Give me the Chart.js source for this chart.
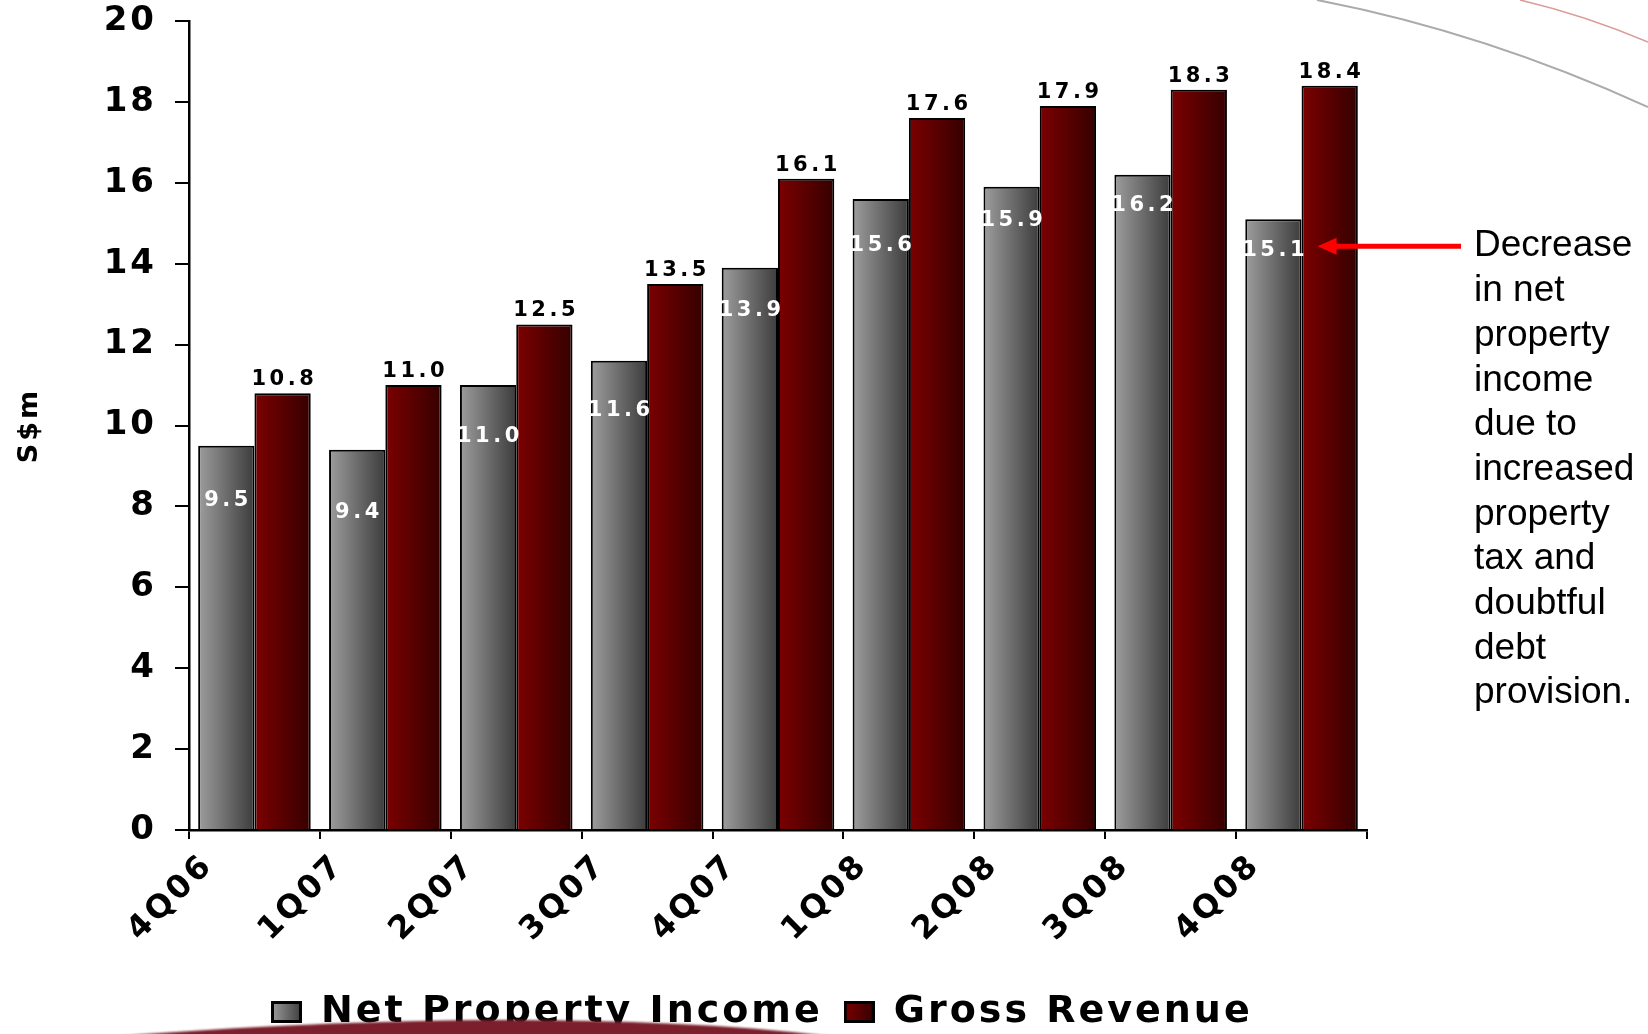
<!DOCTYPE html>
<html>
<head>
<meta charset="utf-8">
<title>Net Property Income and Gross Revenue</title>
<script src="https://cdn.jsdelivr.net/npm/chart.js@4/dist/chart.umd.min.js"></script>
<style>
  html, body { margin: 0; padding: 0; background: #ffffff; }
  #wrap { position: relative; width: 1648px; height: 1034px; }
</style>
</head>
<body>
<div id="wrap"><canvas id="chart"></canvas></div>
<script>
// Quarterly figures, S$ million
const quarters = ['4Q06', '1Q07', '2Q07', '3Q07', '4Q07', '1Q08', '2Q08', '3Q08', '4Q08'];
const netPropertyIncome = [9.5, 9.4, 11.0, 11.6, 13.9, 15.6, 15.9, 16.2, 15.1];
const grossRevenue = [10.8, 11.0, 12.5, 13.5, 16.1, 17.6, 17.9, 18.3, 18.4];
const seriesNames = ['Net Property Income', 'Gross Revenue'];
const axisTitle = 'S$m';
const noteLines = ['Decrease', 'in net', 'property', 'income', 'due to', 'increased',
                   'property', 'tax and', 'doubtful', 'debt', 'provision.'];

const CAT_PCT = 0.86;
const FONT = '"DejaVu Sans", "Liberation Sans", sans-serif';
const palettes = [['#9d9d9d', '#3c3c3c'], ['#7c0000', '#350000']];

// Horizontal shading across each bar, computed from the category scale
function barGradient(context) {
  const chart = context.chart;
  const xs = chart.scales.x;
  const pal = palettes[context.datasetIndex];
  if (!xs || !isFinite(xs.width) || context.dataIndex === undefined) return pal[0];
  const center = xs.getPixelForValue(context.dataIndex);
  const slot = xs.width / quarters.length * CAT_PCT / 2;
  const left = context.datasetIndex === 0 ? center - slot : center;
  const g = chart.ctx.createLinearGradient(left, 0, left + slot, 0);
  g.addColorStop(0, pal[0]);
  g.addColorStop(1, pal[1]);
  return g;
}

// Small shaded squares for the legend
function swatch(pal) {
  const cv = document.createElement('canvas');
  cv.width = 31; cv.height = 22;
  const g = cv.getContext('2d');
  const gr = g.createLinearGradient(0, 0, 31, 0);
  gr.addColorStop(0, pal[0]);
  gr.addColorStop(1, pal[1]);
  g.fillStyle = gr;
  g.fillRect(0, 0, 31, 22);
  g.lineWidth = 3;
  g.strokeStyle = '#000';
  g.strokeRect(1.5, 1.5, 28, 19);
  return cv;
}
const swatches = palettes.map(swatch);

// Letter spacing for the chart's own text (ticks, titles, legend)
const textSpacing = {
  id: 'textSpacing',
  beforeLayout(chart) { chart.ctx.letterSpacing = '3px'; },
  beforeDraw(chart) { chart.ctx.letterSpacing = '3px'; }
};

// Put the legend row at the foot of the page
const legendPlace = {
  id: 'legendPlace',
  afterLayout(chart) {
    const lg = chart.legend;
    if (!lg) return;
    const h = lg.bottom - lg.top;
    const pad = lg.options.labels.padding;
    lg.left = 271 - pad;
    lg.right = chart.width;
    lg.top = 993 - pad;
    lg.bottom = lg.top + h;
  }
};

// Value labels: above the revenue bars, inside the income bars
const valueLabels = {
  id: 'valueLabels',
  afterDatasetsDraw(chart, args, opts) {
    const ctx = chart.ctx;
    ctx.save();
    ctx.letterSpacing = '3.5px';
    ctx.font = 'bold 21px ' + FONT;
    ctx.textAlign = 'center';
    chart.data.datasets.forEach((ds, di) => {
      const meta = chart.getDatasetMeta(di);
      meta.data.forEach((bar, i) => {
        const txt = ds.data[i].toFixed(1);
        if (di === 1) {
          ctx.fillStyle = '#000';
          ctx.textBaseline = 'alphabetic';
          ctx.fillText(txt, bar.x + 1.75, bar.y - 8);
        } else {
          ctx.fillStyle = '#fff';
          ctx.textBaseline = 'middle';
          ctx.fillText(txt, bar.x + 1.75, bar.y + opts.insideDrop[i]);
        }
      });
    });
    ctx.restore();
    ctx.letterSpacing = '3px';
  }
};

// Side note with arrow, plus the page's decorative curves
const decorations = {
  id: 'decorations',
  afterDraw(chart) {
    const ctx = chart.ctx;
    const area = chart.chartArea;
    ctx.save();
    ctx.letterSpacing = '0px';

    // thin arcs in the top-right corner
    ctx.lineWidth = 2;
    ctx.strokeStyle = '#ababab';
    ctx.beginPath();
    ctx.moveTo(1317, 0);
    ctx.quadraticCurveTo(1483, 32, 1648, 107);
    ctx.stroke();
    ctx.lineWidth = 1.5;
    ctx.strokeStyle = '#dc9a9a';
    ctx.beginPath();
    ctx.moveTo(1520, 0);
    ctx.quadraticCurveTo(1584, 15, 1648, 42);
    ctx.stroke();

    // arrow pointing at the last income bar
    const npiBar = chart.getDatasetMeta(0).data[quarters.length - 1];
    const grBar = chart.getDatasetMeta(1).data[quarters.length - 1];
    const ay = npiBar.y + 27;
    const tipX = grBar.x - grBar.width / 2 + 16;
    const tailX = area.right + 94;
    ctx.strokeStyle = '#ff0000';
    ctx.fillStyle = '#ff0000';
    ctx.lineWidth = 5;
    ctx.beginPath();
    ctx.moveTo(tailX, ay);
    ctx.lineTo(tipX + 14, ay);
    ctx.stroke();
    ctx.beginPath();
    ctx.moveTo(tipX, ay);
    ctx.lineTo(tipX + 19, ay - 8.5);
    ctx.lineTo(tipX + 19, ay + 8.5);
    ctx.closePath();
    ctx.fill();

    // note text
    ctx.fillStyle = '#000';
    ctx.font = '37px "Liberation Sans", Arial, sans-serif';
    ctx.textAlign = 'left';
    ctx.textBaseline = 'middle';
    noteLines.forEach((line, i) => {
      ctx.fillText(line, area.right + 107, ay + i * 44.7);
    });

    // maroon sweep along the bottom edge
    ctx.filter = 'blur(1.2px)';
    ctx.fillStyle = '#7a1f2b';
    ctx.beginPath();
    ctx.moveTo(120, 1036);
    ctx.bezierCurveTo(330, 1020, 600, 1010, 830, 1036);
    ctx.closePath();
    ctx.fill();
    ctx.filter = 'none';
    ctx.restore();
    ctx.letterSpacing = '3px';
  }
};

new Chart(document.getElementById('chart'), {
  type: 'bar',
  data: {
    labels: quarters,
    datasets: [
      {
        label: seriesNames[0],
        data: netPropertyIncome,
        backgroundColor: barGradient,
        borderColor: '#000',
        borderWidth: 2,
        categoryPercentage: CAT_PCT,
        barPercentage: 1.0
      },
      {
        label: seriesNames[1],
        data: grossRevenue,
        backgroundColor: barGradient,
        borderColor: '#000',
        borderWidth: 2,
        categoryPercentage: CAT_PCT,
        barPercentage: 1.0
      }
    ]
  },
  options: {
    responsive: true,
    maintainAspectRatio: false,
    animation: false,
    devicePixelRatio: 1,
    layout: { padding: { top: 21, right: 281, bottom: 0, left: 0 } },
    scales: {
      x: {
        offset: true,
        grid: { offset: true, drawOnChartArea: false, drawTicks: true, tickLength: 9, color: '#000', lineWidth: 2 },
        border: { display: true, color: '#000', width: 2.5 },
        ticks: {
          color: '#000',
          font: { family: FONT, weight: 'bold', size: 32 },
          minRotation: 45,
          maxRotation: 45,
          autoSkip: false,
          labelOffset: -46,
          padding: 8
        },
        afterFit(scale) {
          scale.height = 135;
          scale.paddingLeft = 0;
          scale.paddingRight = 0;
        }
      },
      y: {
        min: 0,
        max: 20,
        ticks: {
          stepSize: 2,
          color: '#000',
          font: { family: FONT, weight: 'bold', size: 34 },
          padding: 18
        },
        grid: { drawOnChartArea: false, drawTicks: true, tickLength: 14, color: '#000', lineWidth: 2 },
        border: { display: true, color: '#000', width: 2.5 },
        title: {
          display: true,
          text: axisTitle,
          color: '#000',
          font: { family: FONT, weight: 'bold', size: 27 },
          padding: { top: 14, bottom: 0 }
        },
        afterFit(scale) {
          scale.width = 189;
          scale.paddingTop = 0;
          scale.paddingBottom = 0;
        }
      }
    },
    plugins: {
      legend: {
        position: 'bottom',
        align: 'start',
        labels: {
          usePointStyle: true,
          pointStyleWidth: 31,
          color: '#000',
          font: { family: FONT, weight: 'bold', size: 38 },
          padding: 21,
          generateLabels(chart) {
            return chart.data.datasets.map((ds, i) => ({
              text: ds.label,
              pointStyle: swatches[i],
              datasetIndex: i,
              hidden: false,
              lineWidth: 0,
              fillStyle: '#000',
              strokeStyle: '#000',
              fontColor: '#000'
            }));
          }
        }
      },
      tooltip: { enabled: false },
      valueLabels: { insideDrop: [55, 63, 51, 50, 43, 47, 34, 31, 31] }
    }
  },
  plugins: [textSpacing, legendPlace, valueLabels, decorations]
});
</script>
</body>
</html>
